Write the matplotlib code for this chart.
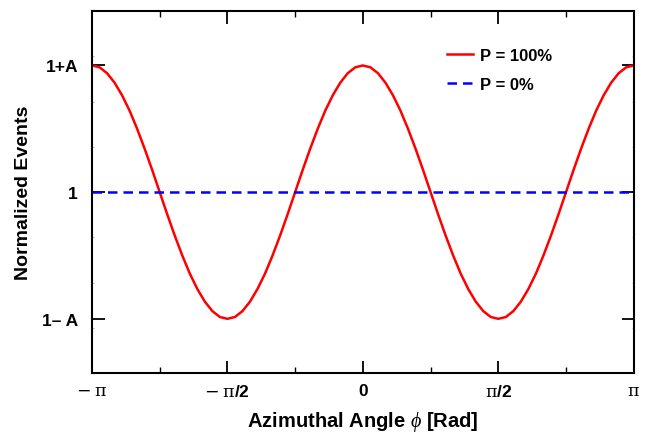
import matplotlib
matplotlib.use("Agg")
import matplotlib.pyplot as plt
import numpy as np
from matplotlib.ticker import MultipleLocator

plt.rcParams['font.family'] = ['Liberation Sans', 'DejaVu Sans']
plt.rcParams['font.weight'] = 'bold'
plt.rcParams['mathtext.fontset'] = 'custom'
plt.rcParams['mathtext.rm'] = 'DejaVu Serif:weight=normal'
plt.rcParams['mathtext.it'] = 'Liberation Serif:italic:weight=normal'

phi_deg = [-180, -175, -170, -165, -160, -155, -150, -145, -140, -135,
           -130, -125, -120, -115, -110, -105, -100, -95, -90, -85,
           -80, -75, -70, -65, -60, -55, -50, -45, -40, -35,
           -30, -25, -20, -15, -10, -5, 0, 5, 10, 15,
           20, 25, 30, 35, 40, 45, 50, 55, 60, 65,
           70, 75, 80, 85, 90, 95, 100, 105, 110, 115,
           120, 125, 130, 135, 140, 145, 150, 155, 160, 165,
           170, 175, 180]
# normalized events, P = 100%
p100 = [1.280, 1.276, 1.263, 1.242, 1.214, 1.180, 1.140, 1.096, 1.049, 1.000,
        0.951, 0.904, 0.860, 0.820, 0.786, 0.758, 0.737, 0.724, 0.720, 0.724,
        0.737, 0.758, 0.786, 0.820, 0.860, 0.904, 0.951, 1.000, 1.049, 1.096,
        1.140, 1.180, 1.214, 1.242, 1.263, 1.276, 1.280, 1.276, 1.263, 1.242,
        1.214, 1.180, 1.140, 1.096, 1.049, 1.000, 0.951, 0.904, 0.860, 0.820,
        0.786, 0.758, 0.737, 0.724, 0.720, 0.724, 0.737, 0.758, 0.786, 0.820,
        0.860, 0.904, 0.951, 1.000, 1.049, 1.096, 1.140, 1.180, 1.214, 1.242,
        1.263, 1.276, 1.280]
# normalized events, P = 0%
p0 = [1.0] * len(phi_deg)

y_ticks = [0.72, 1.0, 1.28]
y_labels = ['1\u2013 A', '1', '1+A']
x_ticks_deg = [-180, -90, 0, 90, 180]
x_labels = [r'$-\ \mathrm{\pi}$', r'$-\ \mathrm{\pi}$/2', '0',
            r'$\mathrm{\pi}$/2', r'$\mathrm{\pi}$']

phi = np.deg2rad(phi_deg)

fig = plt.figure(figsize=(6.5, 4.35), dpi=100)
ax = fig.add_axes([0.1415, 0.14, 0.8335, 0.832])

ax.plot(phi, p100, color='#ff0000', lw=1.8, label='P = 100%', solid_joinstyle='round')
ax.plot(phi, p0, color='#0000ff', lw=1.8, ls=(0, (3.8, 2.4)), label='P = 0%')

ax.set_xlim(-np.pi, np.pi)
ax.set_ylim(0.6, 1.4)
ax.set_xticks(np.deg2rad(x_ticks_deg))
ax.set_xticklabels(x_labels, fontsize=12.5)
ax.xaxis.set_minor_locator(MultipleLocator(np.pi / 4))
ax.set_yticks(y_ticks)
ax.set_yticklabels(y_labels, fontsize=12.5)
ax.yaxis.set_minor_locator(MultipleLocator(0.1))

ax.tick_params(which='major', direction='in', length=9, width=1.3, top=True, right=True)
ax.tick_params(axis='y', which='major', pad=10)
ax.tick_params(axis='x', which='major', pad=7)
ax.tick_params(axis='x', which='minor', direction='in', length=4.5, width=1.0, top=True)
ax.tick_params(axis='y', which='minor', direction='in', length=1.5, width=0.6, right=True, color='#aaaaaa')
for s in ax.spines.values():
    s.set_linewidth(1.5)

ax.set_xlabel(r'Azimuthal Angle $\phi$ [Rad]', fontsize=14.5, fontweight='bold', labelpad=7)
ax.set_ylabel('Normalized Events', fontsize=14, fontweight='bold', labelpad=7)

ax.legend(loc='upper left', bbox_to_anchor=(0.627, 0.94), frameon=False, fontsize=12,
          handlelength=1.6, handletextpad=0.4, labelspacing=0.85)

fig.savefig('out.png', dpi=100)
